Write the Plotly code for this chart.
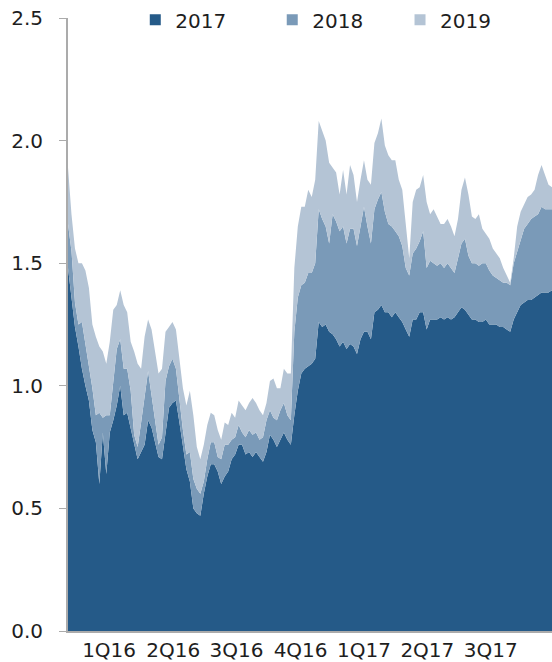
import pandas as pd
import plotly.graph_objects as go

# Observation dates (every 5 days, mid-Dec 2015 to mid-Nov 2017)
dates = pd.date_range("2015-12-17", periods=140, freq="5D")

# Implied rate contribution by year (stacked: 2017 base, then 2018 and 2019 increments)
rate_2017 = [
    1.48, 1.36, 1.24, 1.16, 1.07, 1.00, 0.94, 0.82, 0.77, 0.60,
    0.81, 0.64, 0.81, 0.86, 0.92, 1.00, 0.88, 0.89, 0.83, 0.77,
    0.70, 0.73, 0.76, 0.86, 0.83, 0.77, 0.71, 0.70, 0.80, 0.91,
    0.93, 0.94, 0.85, 0.76, 0.66, 0.61, 0.50, 0.48, 0.47, 0.56,
    0.63, 0.68, 0.68, 0.65, 0.60, 0.63, 0.65, 0.70, 0.72, 0.76,
    0.76, 0.72, 0.73, 0.71, 0.73, 0.71, 0.69, 0.73, 0.80, 0.78,
    0.75, 0.78, 0.81, 0.78, 0.76, 0.88, 0.98, 1.05, 1.07, 1.08,
    1.09, 1.11, 1.26, 1.24, 1.25, 1.22, 1.21, 1.19, 1.16, 1.18,
    1.15, 1.17, 1.16, 1.13, 1.19, 1.22, 1.22, 1.19, 1.30, 1.31,
    1.33, 1.30, 1.30, 1.28, 1.30, 1.28, 1.26, 1.23, 1.20, 1.27,
    1.27, 1.30, 1.30, 1.23, 1.27, 1.27, 1.27, 1.28, 1.27, 1.28,
    1.27, 1.28, 1.30, 1.32, 1.31, 1.29, 1.27, 1.27, 1.26, 1.26,
    1.27, 1.25, 1.25, 1.25, 1.24, 1.24, 1.23, 1.22, 1.27, 1.30,
    1.33, 1.34, 1.35, 1.35, 1.36, 1.37, 1.38, 1.38, 1.38, 1.39,
]
rate_2018 = [
    0.18, 0.19, 0.10, 0.09, 0.19, 0.17, 0.14, 0.17, 0.11, 0.29,
    0.06, 0.24, 0.07, 0.17, 0.23, 0.19, 0.19, 0.18, 0.15, 0.03,
    0.05, 0.12, 0.20, 0.20, 0.13, 0.09, 0.05, 0.09, 0.22, 0.17,
    0.18, 0.13, 0.09, 0.06, 0.06, 0.12, 0.12, 0.10, 0.09, 0.05,
    0.07, 0.09, 0.09, 0.06, 0.10, 0.13, 0.11, 0.08, 0.07, 0.08,
    0.05, 0.07, 0.09, 0.09, 0.08, 0.07, 0.10, 0.13, 0.10, 0.09,
    0.11, 0.12, 0.12, 0.10, 0.10, 0.34, 0.38, 0.36, 0.35, 0.38,
    0.37, 0.39, 0.46, 0.44, 0.40, 0.36, 0.49, 0.48, 0.47, 0.47,
    0.43, 0.47, 0.48, 0.44, 0.46, 0.51, 0.43, 0.39, 0.42, 0.45,
    0.46, 0.41, 0.36, 0.37, 0.33, 0.33, 0.31, 0.25, 0.25, 0.27,
    0.29, 0.29, 0.33, 0.25, 0.24, 0.23, 0.22, 0.22, 0.21, 0.22,
    0.21, 0.18, 0.22, 0.26, 0.29, 0.24, 0.23, 0.23, 0.23, 0.24,
    0.23, 0.22, 0.20, 0.19, 0.19, 0.18, 0.19, 0.19, 0.23, 0.25,
    0.27, 0.30, 0.31, 0.33, 0.33, 0.33, 0.35, 0.34, 0.34, 0.33,
]
rate_2019 = [
    0.23, 0.15, 0.22, 0.25, 0.24, 0.30, 0.32, 0.26, 0.32, 0.27,
    0.27, 0.21, 0.30, 0.28, 0.18, 0.20, 0.26, 0.23, 0.20, 0.34,
    0.34, 0.22, 0.24, 0.21, 0.27, 0.28, 0.29, 0.28, 0.20, 0.16,
    0.15, 0.16, 0.16, 0.17, 0.20, 0.25, 0.26, 0.17, 0.14, 0.15,
    0.14, 0.12, 0.11, 0.11, 0.08, 0.09, 0.08, 0.11, 0.08, 0.10,
    0.11, 0.11, 0.11, 0.15, 0.12, 0.12, 0.09, 0.07, 0.12, 0.16,
    0.13, 0.09, 0.14, 0.17, 0.19, 0.26, 0.29, 0.32, 0.31, 0.34,
    0.31, 0.34, 0.36, 0.36, 0.35, 0.33, 0.19, 0.20, 0.15, 0.23,
    0.20, 0.26, 0.22, 0.18, 0.19, 0.19, 0.19, 0.24, 0.27, 0.27,
    0.30, 0.27, 0.28, 0.27, 0.29, 0.23, 0.23, 0.17, 0.07, 0.21,
    0.24, 0.22, 0.23, 0.27, 0.19, 0.22, 0.20, 0.16, 0.18, 0.18,
    0.17, 0.15, 0.16, 0.22, 0.25, 0.25, 0.19, 0.18, 0.21, 0.14,
    0.12, 0.13, 0.11, 0.10, 0.09, 0.06, 0.03, 0.01, 0.02, 0.10,
    0.11, 0.10, 0.11, 0.10, 0.11, 0.16, 0.17, 0.14, 0.10, 0.09,
]

series_names = ["2017", "2018", "2019"]
series_values = [rate_2017, rate_2018, rate_2019]
series_colors = ["#255A88", "#7A9AB8", "#B4C4D5"]

# Quarter labels placed at mid-quarter
quarter_ticks = ["2016-02-14", "2016-05-16", "2016-08-15", "2016-11-15",
                 "2017-02-14", "2017-05-16", "2017-08-15"]
quarter_labels = ["1Q16", "2Q16", "3Q16", "4Q16", "1Q17", "2Q17", "3Q17"]

FONT = "DejaVu Sans, Verdana, sans-serif"
TEXT = "#1e1e1e"
AXIS = "#ababab"
FSIZE = 20

fig = go.Figure()

for name, vals, col in zip(series_names, series_values, series_colors):
    fig.add_trace(go.Scatter(
        x=dates, y=vals, name=name, mode="lines",
        stackgroup="rates", line=dict(width=0, color=col),
        fillcolor=col, showlegend=False, hoverinfo="x+y+name",
    ))

# Square legend keys, one legend per entry so each can be placed on its own
legend_x = [0.139, 0.422, 0.686]
for k, (name, col) in enumerate(zip(series_names, series_colors)):
    fig.add_trace(go.Scatter(
        x=[None], y=[None], name=name, mode="markers",
        marker=dict(symbol="square", size=11, color=col),
        legend="legend" if k == 0 else f"legend{k + 1}",
    ))

legend_common = dict(
    orientation="h", yanchor="middle", y=0.997, xanchor="left",
    font=dict(family=FONT, size=FSIZE, color=TEXT),
    bgcolor="rgba(0,0,0,0)", borderwidth=0,
)

fig.update_layout(
    width=552, height=662,
    margin=dict(l=68, r=0, t=18, b=31),
    paper_bgcolor="white", plot_bgcolor="white",
    font=dict(family=FONT, size=FSIZE, color=TEXT),
    legend=dict(x=legend_x[0], **legend_common),
    legend2=dict(x=legend_x[1], **legend_common),
    legend3=dict(x=legend_x[2], **legend_common),
    xaxis=dict(
        type="date", range=[dates[0], dates[-1]],
        tickmode="array", tickvals=quarter_ticks, ticktext=quarter_labels,
        ticks="", showgrid=False, zeroline=False,
        showline=True, linecolor=AXIS, linewidth=2,
        tickfont=dict(family=FONT, size=FSIZE, color=TEXT),
    ),
    yaxis=dict(
        range=[0, 2.5], dtick=0.5, tickformat=".1f",
        ticks="outside", ticklen=7, tickcolor=AXIS, tickwidth=1,
        showgrid=False, zeroline=False,
        showline=True, linecolor=AXIS, linewidth=2,
        ticklabelstandoff=12,
        tickfont=dict(family=FONT, size=FSIZE, color=TEXT),
    ),
    hovermode="x unified",
)

fig.write_html("out.html")
